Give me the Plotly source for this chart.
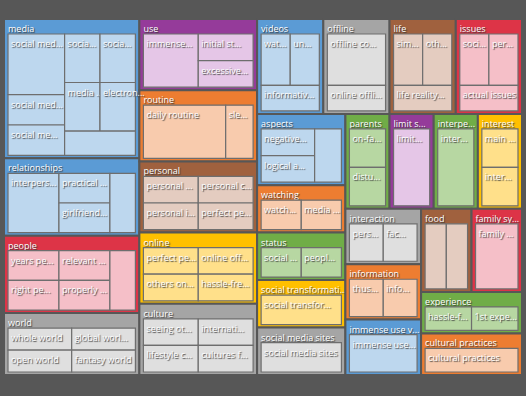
import plotly.graph_objects as go

# ---- data -------------------------------------------------------------
groups = ["media", "relationships", "people", "world", "use", "routine", "personal",
          "online", "culture", "videos", "offline", "life", "issues", "aspects",
          "watching", "status", "social transformati...", "social media sites",
          "parents", "limit s...", "interpe...", "interest", "interaction",
          "information", "immense use v...", "food", "family sy...", "experience",
          "cultural practices"]
group_palette = ["blue", "blue", "red", "gray", "purple", "orange", "brown",
                 "yellow", "gray", "blue", "gray", "brown", "red", "blue",
                 "orange", "green", "yellow", "gray",
                 "green", "purple", "green", "yellow", "gray",
                 "orange", "blue", "brown", "red", "green",
                 "orange"]

leaf_group = (["media"] * 8 + ["relationships"] * 4 + ["people"] * 5 + ["world"] * 4
              + ["use"] * 3 + ["routine"] * 2 + ["personal"] * 4 + ["online"] * 4
              + ["culture"] * 4 + ["videos"] * 3 + ["offline"] * 2 + ["life"] * 3
              + ["issues"] * 3 + ["aspects"] * 3 + ["watching"] * 2 + ["status"] * 2
              + ["social transformati..."] + ["social media sites"]
              + ["parents"] * 2 + ["limit s..."] + ["interpe..."] + ["interest"] * 2
              + ["interaction"] * 2 + ["information"] * 2 + ["immense use v..."]
              + ["food"] * 2 + ["family sy..."] + ["experience"] * 2
              + ["cultural practices"])
leaf_labels = ["social med...", "social med...", "social me...", "socia...", "socia...",
               "media ...", "electron...", "",
               "interpers...", "practical ...", "girlfriend...", "",
               "years pe...", "right pe...", "relevant ...", "properly ...", "",
               "whole world", "open world", "global worl...", "fantasy world",
               "immense...", "initial st...", "excessive...",
               "daily routine", "sle...",
               "personal ...", "personal i...", "personal c...", "perfect pe...",
               "perfect pe...", "others on...", "online off...", "hassle-fre...",
               "seeing ot...", "lifestyle c...", "internati...", "cultures f...",
               "wat...", "un...", "informativ...",
               "offline co...", "online offli...",
               "sim...", "oth...", "life reality...",
               "soci...", "per...", "actual issues",
               "negative...", "logical a...", "",
               "watch...", "media ...",
               "social ...", "peopl...",
               "social transfor...",
               "social media sites",
               "on-fa...", "distu...",
               "limit...",
               "inter...",
               "main ...", "inter...",
               "pers...", "fac...",
               "thus...", "info...",
               "immense use...",
               "", "",
               "family ...",
               "hassle-f...", "1st expe...",
               "cultural practices"]
leaf_values = [2, 1, 1, 1, 1, 1, 1, 1,
               2, 1, 1, 1,
               1, 1, 1, 1, 1,
               1, 1, 1, 1,
               2, 1, 1,
               3, 1,
               1, 1, 1, 1,
               1, 1, 1, 1,
               1, 1, 1, 1,
               1, 1, 1,
               2, 1,
               1, 1, 1,
               1, 1, 1,
               1, 1, 1,
               1, 1,
               1, 1,
               2,
               2,
               1, 1,
               2,
               2,
               1, 1,
               1, 1,
               1, 1,
               2,
               1, 1,
               2,
               1, 1,
               2]

# ---- styling ----------------------------------------------------------
BG = "#575757"
dark = {"blue": "#5B9BD5", "purple": "#953B9A", "orange": "#ED7D31", "brown": "#A0613E",
        "gray": "#A5A5A5", "yellow": "#FFC000", "red": "#DD3447", "green": "#70AD47"}
light = {"blue": "#BDD7EE", "purple": "#E5C6E7", "orange": "#F8CBAD", "brown": "#E4CCC0",
         "gray": "#DFDFDF", "yellow": "#FFE08A", "red": "#F5BFC8", "green": "#B7D7A2"}

ids, labels, parents, values, colors, lcolors, lwidths = ["root"], [""], [""], [0], [BG], [BG], [0]
pal_of = dict(zip(groups, group_palette))
for g in groups:
    ids.append(g)
    labels.append(g)
    parents.append("root")
    values.append(0)
    colors.append(dark[pal_of[g]])
    lcolors.append(BG)
    lwidths.append(2)
for i, (g, lab, v) in enumerate(zip(leaf_group, leaf_labels, leaf_values)):
    ids.append(f"{g}/{i}")
    labels.append(lab)
    parents.append(g)
    values.append(v)
    colors.append(light[pal_of[g]])
    lcolors.append("#6E6E6E")
    lwidths.append(1.2)

fig = go.Figure(go.Treemap(
    ids=ids, labels=labels, parents=parents, values=values,
    branchvalues="remainder", sort=False,
    marker=dict(colors=colors, line=dict(color=lcolors, width=lwidths),
                pad=dict(t=15, l=4, r=4, b=3)),
    tiling=dict(packing="squarify", squarifyratio=1.63, pad=0),
    pathbar=dict(visible=False),
    textinfo="label",
    textposition="top left",
    textfont=dict(family="Open Sans, sans-serif", size=9, color="#FFFFFF",
                  shadow="1px 1px 1px #3A3A3A"),
    hoverinfo="label+value",
))
fig.update_layout(width=526, height=396,
                  margin=dict(l=0, r=0, t=4, b=18),
                  uniformtext=dict(minsize=9, mode="show"),
                  paper_bgcolor=BG, plot_bgcolor=BG)
fig.write_html("out.html", config={"displayModeBar": False},
               post_script="document.body.style.margin='0';")
